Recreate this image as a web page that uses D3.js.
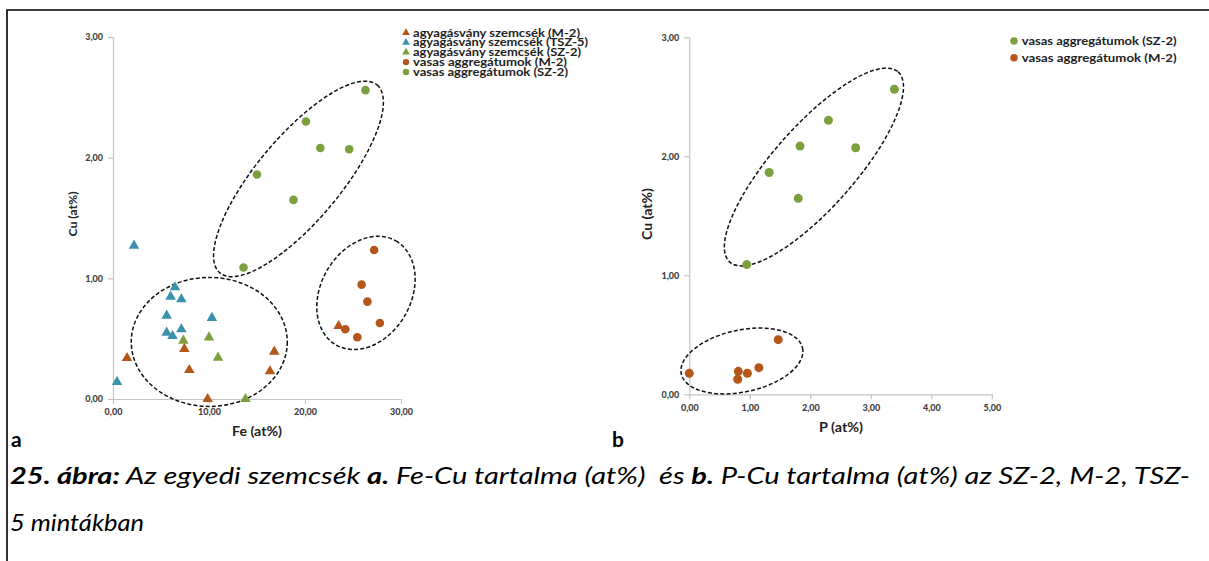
<!DOCTYPE html>
<html><head><meta charset="utf-8">
<script src="https://cdn.jsdelivr.net/npm/d3@7"></script>
<style>body{margin:0;background:#fff}svg{display:block}text{white-space:pre}</style>
</head><body>
<script>
// ---- Data (panel a: Fe vs Cu) ----
const agyagM2   = [[1.46,0.34],[7.43,0.415],[7.95,0.24],[9.86,0.0],[16.35,0.23],[16.8,0.392],[23.5,0.605]];
const agyagTSZ5 = [[0.42,0.141],[2.19,1.271],[5.59,0.691],[5.59,0.55],[6.0,0.848],[6.2,0.522],[6.46,0.926],[7.12,0.826],[7.12,0.578],[10.3,0.672]];
const agyagSZ2  = [[7.33,0.484],[10.0,0.511],[10.94,0.343],[13.8,0.0]];
const vasasM2a  = [[24.2,0.578],[25.45,0.512],[25.9,0.948],[26.5,0.807],[27.2,1.235],[27.8,0.63]];
const vasasSZ2a = [[13.6,1.09],[15.0,1.86],[18.8,1.65],[20.1,2.30],[21.6,2.08],[24.6,2.07],[26.3,2.56]];
// ---- Data (panel b: P vs Cu) ----
const vasasSZ2b = [[0.95,1.09],[1.32,1.864],[1.80,1.647],[1.83,2.086],[2.30,2.302],[2.75,2.072],[3.39,2.563]];
const vasasM2b  = [[0.0,0.176],[0.80,0.126],[0.81,0.193],[0.96,0.176],[1.15,0.224],[1.47,0.459]];
// ---- Ticks / labels ----
const yTicks  = [0,1,2,3];
const xTicksA = [0,10,20,30];
const xTicksB = [0,1,2,3,4,5];
const legendA = ["agyagásvány szemcsék (M-2)","agyagásvány szemcsék (TSZ-5)","agyagásvány szemcsék (SZ-2)","vasas aggregátumok (M-2)","vasas aggregátumok (SZ-2)"];
const legendB = ["vasas aggregátumok (SZ-2)","vasas aggregátumok (M-2)"];

const C = {brown:"#b5561b", blue:"#3a90ad", green:"#7ba03d", axis:"#c4c4c4", tick:"#3f3f3f"};
const FONT = "Lato, 'Open Sans', sans-serif";
const fmt = d => d3.format(".2f")(d).replace(".", ",");

const svg = d3.select("body").append("svg").attr("width",1209).attr("height",561);

// frame
svg.append("path").attr("d","M7,561 L7,10 L1215,10").attr("fill","none").attr("stroke","#000").attr("stroke-width",1.6);

function drawAxes(g, x, y, xt){
  const ya = g.append("g").attr("transform",`translate(${x.range()[0]},0)`)
    .call(d3.axisLeft(y).tickValues(yTicks).tickFormat(fmt).tickSize(5).tickSizeOuter(0).tickPadding(5));
  const xa = g.append("g").attr("transform",`translate(0,${y.range()[0]})`)
    .call(d3.axisBottom(x).tickValues(xt).tickFormat(fmt).tickSize(5).tickSizeOuter(0).tickPadding(5));
  [ya,xa].forEach(a=>{
    a.select(".domain").attr("stroke",C.axis).attr("stroke-width",1.2);
    a.selectAll(".tick line").attr("stroke",C.axis).attr("stroke-width",1.2);
    a.selectAll(".tick text").attr("fill",C.tick).attr("font-family",FONT).attr("font-weight","900").attr("font-size",9);
  });
}
const tri = d3.symbol(d3.symbolTriangle, 48)();
const triSmall = d3.symbol(d3.symbolTriangle, 26)();

function triangles(g, data, x, y, color){
  g.append("g").selectAll("path").data(data).join("path")
    .attr("d",tri).attr("fill",color)
    .attr("transform",d=>`translate(${x(d[0])},${y(d[1])})`);
}
function circles(g, data, x, y, color, r){
  g.append("g").selectAll("circle").data(data).join("circle")
    .attr("cx",d=>x(d[0])).attr("cy",d=>y(d[1])).attr("r",r).attr("fill",color);
}
function ellipse(g, cx, cy, rx, ry, rot){
  g.append("ellipse").attr("cx",0).attr("cy",0).attr("rx",rx).attr("ry",ry)
    .attr("transform",`translate(${cx},${cy}) rotate(${rot})`)
    .attr("fill","none").attr("stroke","#111").attr("stroke-width",1.5).attr("stroke-dasharray","4,2.2");
}

// ---------- Panel a ----------
const xA = d3.scaleLinear([0,30],[113,401]);
const yA = d3.scaleLinear([0,3],[399,37]);
const gA = svg.append("g");
drawAxes(gA, xA, yA, xTicksA);
ellipse(gA, xA(10.03), yA(0.473), 78, 64.5, 0);
ellipse(gA, xA(19.32), yA(1.824), 122.5, 42, -50.1);
ellipse(gA, xA(26.35), yA(0.879), 60, 45, -60);
triangles(gA, agyagTSZ5, xA, yA, C.blue);
triangles(gA, agyagSZ2, xA, yA, C.green);
triangles(gA, agyagM2, xA, yA, C.brown);
circles(gA, vasasM2a, xA, yA, C.brown, 4.3);
circles(gA, vasasSZ2a, xA, yA, C.green, 4.3);

gA.append("text").attr("transform","translate(77,214) rotate(-90)").attr("text-anchor","middle")
  .attr("font-family",FONT).attr("font-weight","bold").attr("font-size",11.5).attr("fill","#222")
  .attr("textLength",45).attr("lengthAdjust","spacingAndGlyphs").text("Cu (at%)");
gA.append("text").attr("x",257).attr("y",436).attr("text-anchor","middle")
  .attr("font-family",FONT).attr("font-weight","bold").attr("font-size",12.5).attr("fill","#222")
  .attr("textLength",50).attr("lengthAdjust","spacingAndGlyphs").text("Fe (at%)");

// legend a
const legAColors = [C.brown,C.blue,C.green,C.brown,C.green];
const legAWidths = [167,175,168,154,155];
legendA.forEach((t,i)=>{
  const yy = 32.7 + i*9.8;
  if(i<3) gA.append("path").attr("d",triSmall).attr("fill",legAColors[i]).attr("transform",`translate(406,${yy})`);
  else gA.append("circle").attr("cx",406).attr("cy",yy).attr("r",3.2).attr("fill",legAColors[i]);
  gA.append("text").attr("x",413).attr("y",yy+3.8).attr("font-family",FONT).attr("font-weight","bold")
    .attr("font-size",10.5).attr("fill","#222").attr("textLength",legAWidths[i]).attr("lengthAdjust","spacingAndGlyphs").text(t);
});

// ---------- Panel b ----------
const xB = d3.scaleLinear([0,5],[689.3,991.8]);
const yB = d3.scaleLinear([0,3],[394.3,37.3]);
const gB = svg.append("g");
drawAxes(gB, xB, yB, xTicksB);
ellipse(gB, xB(2.06), yB(1.91), 127, 41, -48.5);
ellipse(gB, xB(0.87), yB(0.28), 62, 31, -12);
circles(gB, vasasSZ2b, xB, yB, C.green, 4.5);
circles(gB, vasasM2b, xB, yB, C.brown, 4.5);

gB.append("text").attr("transform","translate(652,214) rotate(-90)").attr("text-anchor","middle")
  .attr("font-family",FONT).attr("font-weight","bold").attr("font-size",12.5).attr("fill","#222")
  .attr("textLength",52).attr("lengthAdjust","spacingAndGlyphs").text("Cu (at%)");
gB.append("text").attr("x",841).attr("y",432).attr("text-anchor","middle")
  .attr("font-family",FONT).attr("font-weight","bold").attr("font-size",12.5).attr("fill","#222")
  .attr("textLength",44).attr("lengthAdjust","spacingAndGlyphs").text("P (at%)");

const legBColors = [C.green,C.brown];
legendB.forEach((t,i)=>{
  const yy = 41 + i*16.7;
  gB.append("circle").attr("cx",1014).attr("cy",yy).attr("r",3.8).attr("fill",legBColors[i]);
  gB.append("text").attr("x",1021.7).attr("y",yy+4.2).attr("font-family",FONT).attr("font-weight","bold")
    .attr("font-size",12).attr("fill","#222").attr("textLength",155).attr("lengthAdjust","spacingAndGlyphs").text(t);
});

// panel letters
svg.append("text").attr("x",11).attr("y",447).attr("font-family",FONT).attr("font-weight","bold").attr("font-size",21).text("a");
svg.append("text").attr("x",612).attr("y",447).attr("font-family",FONT).attr("font-weight","bold").attr("font-size",21).text("b");

// caption
const cap1 = svg.append("text").attr("x",10).attr("y",484).attr("font-family",FONT).attr("font-style","italic")
  .attr("font-size",23).attr("fill","#000").attr("textLength",1180).attr("lengthAdjust","spacingAndGlyphs");
[["25. ábra:",true],[" Az egyedi szemcsék ",false],["a.",true],[" Fe-Cu tartalma (at%)  és ",false],["b.",true],[" P-Cu tartalma (at%) az SZ-2, M-2, TSZ-",false]]
  .forEach(([t,b])=>cap1.append("tspan").attr("font-weight",b?"bold":"normal").text(t));
svg.append("text").attr("x",10).attr("y",531).attr("font-family",FONT).attr("font-style","italic")
  .attr("font-size",23).attr("fill","#000").attr("textLength",134).attr("lengthAdjust","spacingAndGlyphs").text("5 mintákban");
</script>
</body></html>
